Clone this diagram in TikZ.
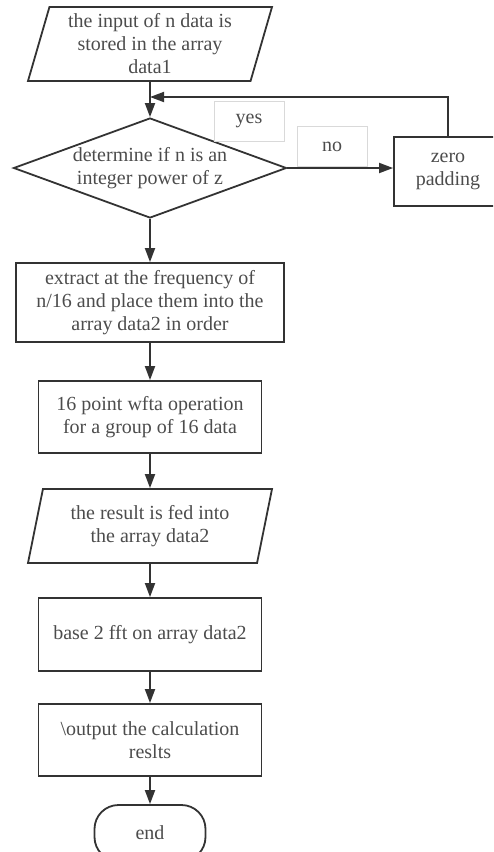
\documentclass[tikz,border=0pt]{standalone}
\usepackage{fontspec}
\setmainfont{Liberation Serif}
\usepackage{tikz}
\usetikzlibrary{arrows.meta}
\usetikzlibrary{shapes.geometric}
\usetikzlibrary{positioning}
\tikzset{io/.style={trapezium,trapezium left angle=71,trapezium right angle=109,trapezium stretches body,draw=black!80,line width=1.8pt,text=black!70,align=center,minimum width=244pt,minimum height=74pt,inner sep=1pt}}
\tikzset{decision/.style={diamond,shape aspect=2.73,draw=black!80,line width=1.8pt,text=black!70,align=center,minimum width=273pt,minimum height=100pt,inner sep=0pt}}
\tikzset{process/.style={rectangle,draw=black!80,line width=1.8pt,text=black!70,align=center,inner sep=2pt}}
\tikzset{terminal/.style={rectangle,rounded corners=24pt,draw=black!80,line width=1.8pt,text=black!70,minimum width=111pt,minimum height=56pt}}
\tikzset{tag/.style={rectangle,draw=black!15,line width=0.6pt,text=black!70,minimum width=70pt,minimum height=40pt}}
\tikzset{arrow/.style={draw=black!80,line width=1.8pt,-{Triangle[length=14pt,width=10pt]}}}

\begin{document}
\begin{tikzpicture}[x=1pt,y=-1pt,font=\fontsize{20}{23}\selectfont]

\useasboundingbox (0,0) rectangle (493,852);
\clip (0,0) rectangle (493,852);

\node (In1) at (150,44) [io] {the input of n data is\\stored in the array\\data1};
\node (Dec) at (150,168) [decision] {determine if n is an\\integer power of z};
\node (Pad) at (448,171.5) [process,minimum width=108pt,minimum height=69pt] {zero\\padding};
\coordinate (Join) at (150,97);
\node (Yes) at (249,121) [tag] {yes};
\node (No) at (332,146.5) [tag] {no};

\node (Ext) at (150,302.5) [process,minimum width=268pt,minimum height=79pt] {extract at the frequency of\\n/16 and place them into the\\array data2 in order};
\node (Wfta) at (150,417) [process,minimum width=223pt,minimum height=72pt] {16 point wfta operation\\for a group of 16 data};
\node (In2) at (150,526) [io] {the result is fed into\\the array data2};
\node (Fft) at (150,634.5) [process,minimum width=223pt,minimum height=73pt] {base 2 fft on array data2};
\node (Out) at (150,740) [process,minimum width=223pt,minimum height=72pt] {\textbackslash output the calculation\\reslts};
\node (End) at (150,833) [terminal] {end};

\draw[arrow] (In1) -- (Dec);
\draw[arrow] (Dec.east) -- (Dec.east -| Pad.west);
\draw[arrow] (Pad.north) |- (Join);
\foreach \i / \j in {Dec/Ext,Ext/Wfta,Wfta/In2,In2/Fft,Fft/Out,Out/End} {
	\draw[arrow] (\i) -- (\j);
}

\end{tikzpicture}
\end{document}
